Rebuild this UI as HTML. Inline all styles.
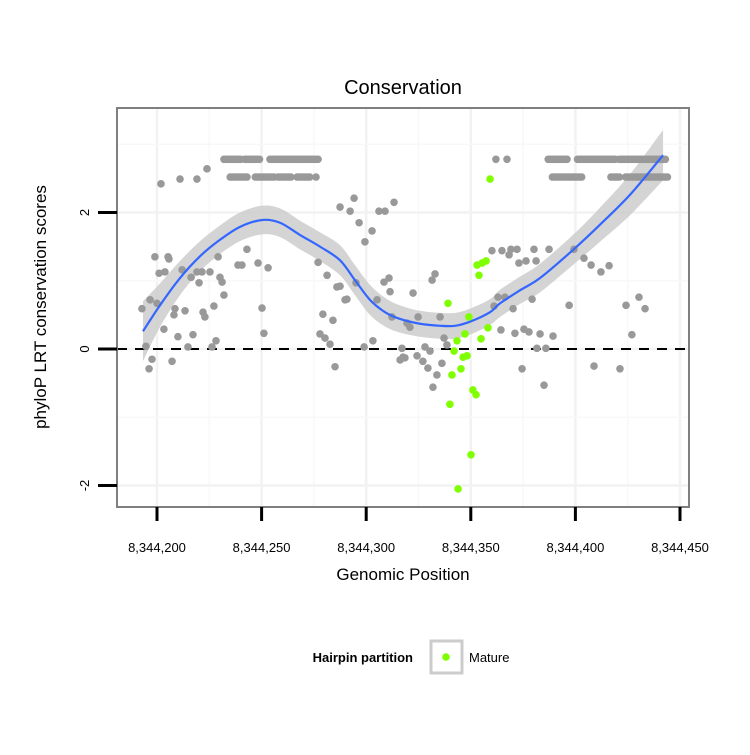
<!DOCTYPE html>
<html><head><meta charset="utf-8"><style>
body{margin:0;background:#fff;width:750px;height:750px;overflow:hidden}
svg text{font-family:"Liberation Sans",sans-serif}
</style></head><body>
<svg id="chart" width="750" height="750"></svg>
<script>
const xTicks=[8344200,8344250,8344300,8344350,8344400,8344450];
const xTickLabels=["8,344,200","8,344,250","8,344,300","8,344,350","8,344,400","8,344,450"];
const yTicks=[-2,0,2];
const yTickLabels=["-2","0","2"];
const grayX=[199,205.3,205.7,201,203.8,212,216.3,219.1,221.5,225.3,229.2,230.1,231.1,232,227.2,220.1,192.8,196.7,200,208.6,213.4,208.1,222,222.9,203.3,210,217.2,214.8,228.2,226.3,194.7,197.6,196.2,207.2,201.9,211,219.1,223.9,243,240.6,238.7,248.3,253.1,250.2,251.1,277,281.3,286,287.5,289.9,290.8,279.3,284.1,277.9,280.3,282.7,285.1,295.1,287.5,294.2,292.3,296.6,302.8,299.4,306.1,309,313.3,308.5,310.9,311.4,305.2,312.3,299,303.2,317.1,316.2,317.6,322.4,331.5,332.9,324.8,335.3,320.9,319.5,328.1,330.5,318.5,324.3,327.1,329.5,336.2,333.8,331.9,337.2,338.6,364.4,371.1,375.4,377.8,383.1,389.3,381.6,385.9,374.5,385,408.9,421.3,427,363,366.3,361.1,370.2,379.3,397,424.2,430.4,433.3,360.1,364.9,368.3,369.2,372.1,380.2,387.4,373,376.4,381.2,399.3,404.1,407.5,412.2,416.1,362,367.3];
const grayY=[1.35,1.35,1.32,1.11,1.13,1.16,1.05,1.13,1.13,1.13,1.35,1.05,0.98,0.79,0.63,0.97,0.59,0.72,0.67,0.59,0.56,0.5,0.54,0.47,0.29,0.18,0.21,0.03,0.12,0.03,0.04,-0.15,-0.29,-0.18,2.42,2.49,2.49,2.64,1.46,1.23,1.23,1.26,1.19,0.6,0.23,1.27,1.08,0.91,0.92,0.72,0.73,0.51,0.42,0.22,0.16,0.07,-0.26,0.97,2.08,2.21,2.02,1.85,1.73,1.57,2.02,2.02,2.15,0.98,1.04,0.84,0.72,0.47,0.03,0.12,0.01,-0.16,-0.12,0.82,1.01,1.1,0.47,0.47,0.32,0.38,0.03,-0.03,-0.13,-0.1,-0.18,-0.28,-0.21,-0.38,-0.56,0.16,0.06,0.28,0.23,0.29,0.25,0.22,0.19,0.01,0.01,-0.29,-0.53,-0.25,-0.29,0.21,0.76,0.76,0.63,0.59,0.73,0.64,0.64,0.76,0.59,1.44,1.44,1.38,1.46,1.46,1.46,1.46,1.26,1.29,1.29,1.46,1.33,1.23,1.13,1.22,2.78,2.78];
const runStart=[232,242,254,387,401,421,235,247,258,267,276,389,417,424];
const runEnd=[240,249,277,396,419,443,243,256,264,273,276,403,421,444];
const runY=[2.78,2.78,2.78,2.78,2.78,2.78,2.52,2.52,2.52,2.52,2.52,2.52,2.52,2.52];
const greenX=[359.2,353,355.4,357.3,353.9,339.1,349.1,358.2,347.2,354.9,343.4,342,346.3,348.2,345.3,341,351,352.5,340,350.1,343.9];
const greenY=[2.49,1.23,1.26,1.29,1.08,0.67,0.47,0.31,0.22,0.15,0.12,-0.03,-0.12,-0.1,-0.29,-0.38,-0.6,-0.67,-0.81,-1.55,-2.05];
const fitX=[193.3,201.4,211,220.6,230.1,239.7,250.2,258.8,268.4,277.9,287.5,294.6,301.8,309,316.2,325.7,335.3,342.5,349.6,359.2,364,373.5,383.1,398.8,411.7,426.1,441.9];
const fitY=[0.26,0.64,1.04,1.36,1.6,1.79,1.89,1.85,1.67,1.5,1.3,1.01,0.72,0.54,0.44,0.37,0.34,0.34,0.4,0.54,0.67,0.86,1.04,1.45,1.82,2.26,2.84];
const fitSE=[0.44,0.32,0.25,0.22,0.21,0.21,0.21,0.21,0.21,0.21,0.22,0.22,0.22,0.21,0.2,0.19,0.19,0.19,0.19,0.19,0.2,0.2,0.21,0.22,0.25,0.3,0.37];

const NS="http://www.w3.org/2000/svg";
const svg=document.getElementById('chart');
const PL=117,PR=689,PT=108,PB=507;
function sx(v){return 157+(v-8344200)*(680-157)/250;}
function sy(v){return 349-v*68.25;}
function mk(tag,attrs,parent){const e=document.createElementNS(NS,tag);for(const k in attrs)e.setAttribute(k,attrs[k]);(parent||svg).appendChild(e);return e;}
function smoothPath(pts,move){
  let d=move?('M'+pts[0][0]+','+pts[0][1]):('L'+pts[0][0]+','+pts[0][1]);
  for(let i=0;i<pts.length-1;i++){
    const p0=pts[Math.max(i-1,0)],p1=pts[i],p2=pts[i+1],p3=pts[Math.min(i+2,pts.length-1)];
    const c1=[p1[0]+(p2[0]-p0[0])/6,p1[1]+(p2[1]-p0[1])/6];
    const c2=[p2[0]-(p3[0]-p1[0])/6,p2[1]-(p3[1]-p1[1])/6];
    d+='C'+c1[0]+','+c1[1]+' '+c2[0]+','+c2[1]+' '+p2[0]+','+p2[1];
  }
  return d;
}

const panel=mk('rect',{x:PL,y:PT,width:PR-PL,height:PB-PT,fill:'#fff'});


for(let i=0;i<xTicks.length;i++){
  const gx=mk('line',{x1:sx(xTicks[i]),x2:sx(xTicks[i]),y1:PT,y2:PB,stroke:'#f2f2f2','stroke-width':2.5});
  
  
  if(i<xTicks.length-1){const m=(xTicks[i]+xTicks[i+1])/2;
    const gm=mk('line',{x1:sx(m),x2:sx(m),y1:PT,y2:PB,stroke:'#f8f8f8','stroke-width':1.5});
    
    }
}
[-2,-1,0,1,2,3].forEach(v=>{
  const g=mk('line',{x1:PL,x2:PR,y1:sy(v),y2:sy(v),stroke:(v%2===0)?'#f2f2f2':'#f8f8f8','stroke-width':(v%2===0)?2.5:1.5});
  
  
});
let up=[],lo=[];
for(let i=0;i<fitX.length;i++){up.push([sx(8344000+fitX[i]),sy(fitY[i]+fitSE[i])]);lo.unshift([sx(8344000+fitX[i]),sy(fitY[i]-fitSE[i])]);}
const band=mk('path',{d:smoothPath(up,true)+smoothPath(lo,false)+'Z',fill:'#cccccc','fill-opacity':0.85});


const zl=mk('line',{x1:PL,x2:PR,y1:sy(0),y2:sy(0),stroke:'#000','stroke-width':2,'stroke-dasharray':'10,8'});


for(let i=0;i<grayX.length;i++){
  const c=mk('circle',{cx:sx(8344000+grayX[i]),cy:sy(grayY[i]),r:3.8,fill:'#999999'});
  
  
}
for(let r=0;r<runStart.length;r++){
  for(let p=runStart[r];p<=runEnd[r];p++){
    const c=mk('circle',{cx:sx(8344000+p),cy:sy(runY[r]),r:3.8,fill:'#999999'});
    
    
  }
}
const fpts=fitX.map((x,i)=>[sx(8344000+x),sy(fitY[i])]);
const fl=mk('path',{d:smoothPath(fpts,true),fill:'none',stroke:'#3366ff','stroke-width':2.2});


for(let i=0;i<greenX.length;i++){
  const c=mk('circle',{cx:sx(8344000+greenX[i]),cy:sy(greenY[i]),r:3.8,fill:'#7fff00'});
  
  
}
const bd=mk('rect',{x:PL,y:PT,width:PR-PL,height:PB-PT,fill:'none',stroke:'#7f7f7f','stroke-width':2});


for(let i=0;i<xTicks.length;i++){
  const t=mk('line',{x1:sx(xTicks[i]),x2:sx(xTicks[i]),y1:PB,y2:PB+14,stroke:'#000','stroke-width':3});
  
  
  const l=mk('text',{x:sx(xTicks[i]),y:552,'font-size':13,'text-anchor':'middle',fill:'#000'});
  l.textContent=xTickLabels[i];
  
  
}
for(let i=0;i<yTicks.length;i++){
  const t=mk('line',{x1:98,x2:PL,y1:sy(yTicks[i]),y2:sy(yTicks[i]),stroke:'#000','stroke-width':3});
  
  
  const l=mk('text',{x:0,y:0,'font-size':13,'text-anchor':'middle',fill:'#000',transform:'translate(89,'+sy(yTicks[i])+') rotate(-90)'});
  l.textContent=yTickLabels[i];
  
  
}
</script>
<svg width="750" height="750" style="position:absolute;left:0;top:0;pointer-events:none">
<text x="403" y="94" font-size="20" text-anchor="middle">Conservation</text>
<text x="403" y="580" font-size="17" text-anchor="middle">Genomic Position</text>
<text transform="translate(46,307) rotate(-90)" font-size="17" text-anchor="middle">phyloP LRT conservation scores</text>
<text x="413" y="662" font-size="13" font-weight="bold" text-anchor="end">Hairpin partition</text>
<rect x="431" y="641" width="31" height="32" fill="#fff" stroke="#cccccc" stroke-width="3"/>
<circle cx="446" cy="657" r="3.8" fill="#7fff00"/>
<text x="469" y="662" font-size="13">Mature</text>
</svg>
</body></html>
